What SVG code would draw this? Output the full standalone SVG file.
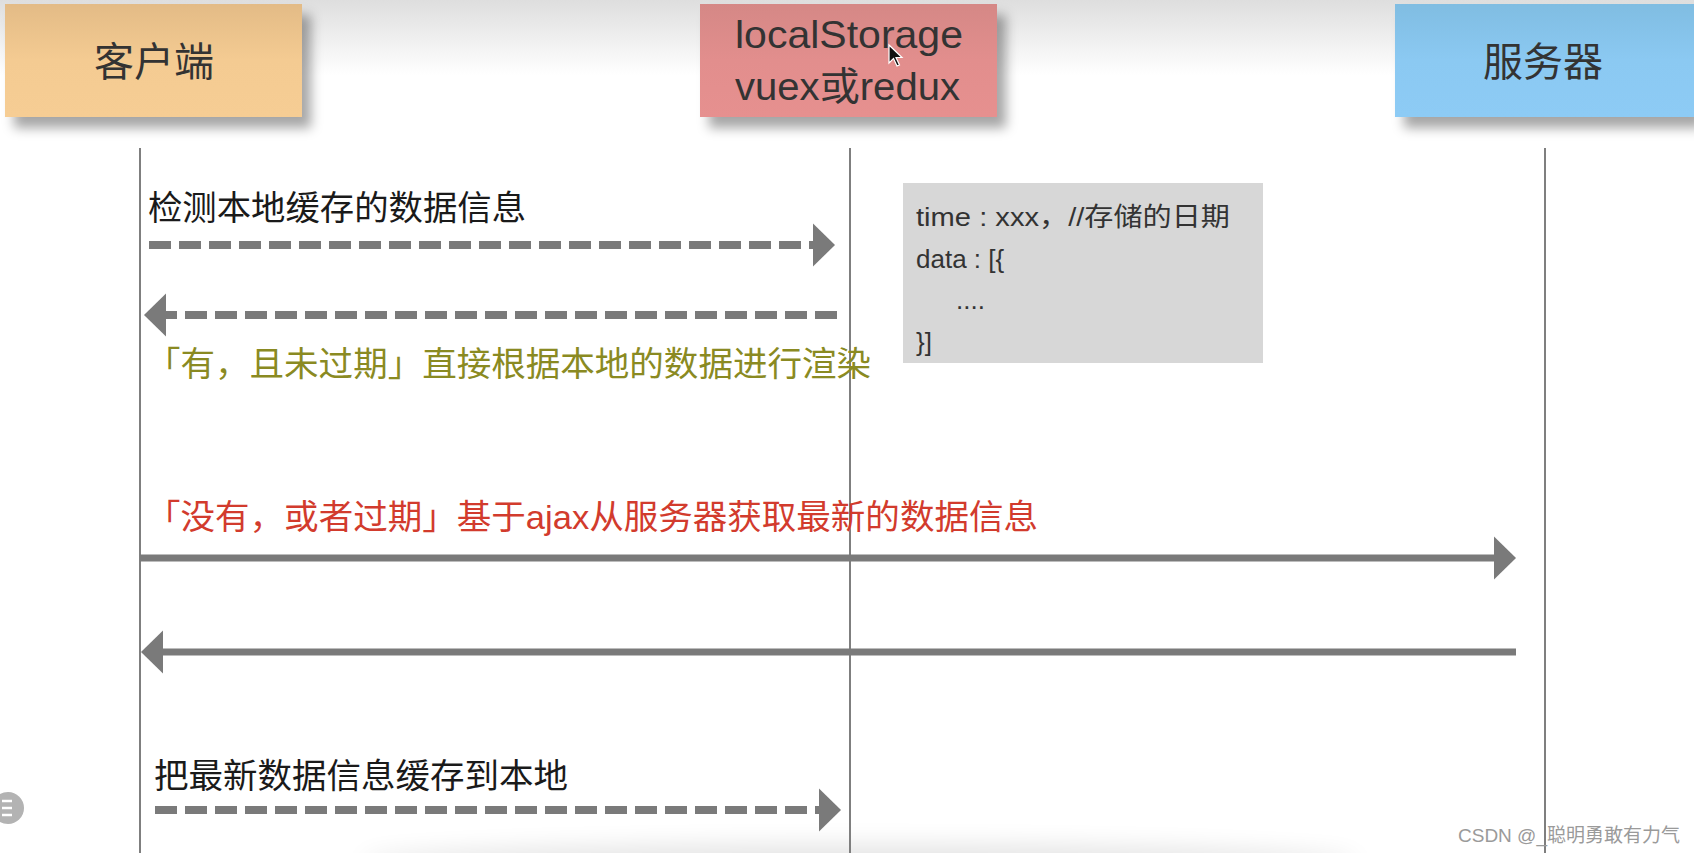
<svg xmlns="http://www.w3.org/2000/svg" width="1694" height="853" viewBox="0 0 1694 853">
  <defs>
    <linearGradient id="topbg" x1="0" y1="0" x2="0" y2="1">
      <stop offset="0" stop-color="#dedede"/>
      <stop offset="1" stop-color="#ffffff"/>
    </linearGradient>
    <linearGradient id="gClient" x1="0" y1="0" x2="0" y2="1">
      <stop offset="0" stop-color="#e3bb86"/>
      <stop offset="0.5" stop-color="#f4cb92"/>
      <stop offset="1" stop-color="#f6cd94"/>
    </linearGradient>
    <linearGradient id="gLocal" x1="0" y1="0" x2="0" y2="1">
      <stop offset="0" stop-color="#d58886"/>
      <stop offset="0.5" stop-color="#e28e8d"/>
      <stop offset="1" stop-color="#e6908f"/>
    </linearGradient>
    <linearGradient id="gServer" x1="0" y1="0" x2="0" y2="1">
      <stop offset="0" stop-color="#80bde2"/>
      <stop offset="0.5" stop-color="#8bc9f2"/>
      <stop offset="1" stop-color="#8dcbf5"/>
    </linearGradient>
    <filter id="shadow" x="-10%" y="-20%" width="130%" height="160%">
      <feDropShadow dx="9" dy="11" stdDeviation="6" flood-color="#000" flood-opacity="0.35"/>
    </filter>
    <filter id="blur" x="-20%" y="-100%" width="140%" height="300%">
      <feGaussianBlur stdDeviation="12"/>
    </filter>
    <marker id="headR" markerUnits="userSpaceOnUse" markerWidth="23" markerHeight="44" refX="0" refY="21.5" orient="auto" viewBox="0 0 23 44" overflow="visible">
      <path d="M0,0 L22,21.5 L0,43 Z" fill="#7a7a7a"/>
    </marker>
    <style>
      .box { stroke: none; filter: url(#shadow); }
      .hdr { font-family: "Liberation Sans", "Noto Sans CJK SC", sans-serif; font-size: 40px; fill: #333; }
      .hdr2 { font-family: "Liberation Sans", "Noto Sans CJK SC", sans-serif; font-size: 39px; fill: #333; }
      .life { stroke: #7f7f7f; stroke-width: 2; fill: none; }
      .dash { stroke: #7a7a7a; stroke-width: 8; stroke-dasharray: 22 8; fill: none; marker-end: url(#headR); }
      .solid { stroke: #7a7a7a; stroke-width: 7; fill: none; marker-end: url(#headR); }
      .lbl { font-family: "Liberation Sans", "Noto Sans CJK SC", sans-serif; font-size: 34px; }
      .note { font-family: "Liberation Sans", "Noto Sans CJK SC", sans-serif; font-size: 26px; fill: #333; }
    </style>
  </defs>

  <rect x="0" y="0" width="1694" height="853" fill="#ffffff"/>
  <rect x="0" y="0" width="1694" height="75" fill="url(#topbg)"/>
  <ellipse cx="860" cy="862" rx="500" ry="18" fill="#000" opacity="0.10" filter="url(#blur)"/>

  <g id="lifelines">
    <line class="life" x1="140" y1="148" x2="140" y2="853"/>
    <line class="life" x1="850" y1="148" x2="850" y2="853"/>
    <line class="life" x1="1545" y1="148" x2="1545" y2="853"/>
  </g>

  <g id="node-client">
    <rect class="box" x="5" y="4" width="297" height="113" fill="url(#gClient)"/>
    <text class="hdr" x="154" y="76" text-anchor="middle">客户端</text>
  </g>

  <g id="node-local">
    <rect class="box" x="700" y="4" width="297" height="113" fill="url(#gLocal)"/>
    <text class="hdr2" x="735" y="48" textLength="228" lengthAdjust="spacingAndGlyphs">localStorage</text>
    <text class="hdr2" x="735" y="100" textLength="225" lengthAdjust="spacingAndGlyphs">vuex或redux</text>
  </g>

  <g id="node-server">
    <rect class="box" x="1395" y="4" width="299" height="113" fill="url(#gServer)"/>
    <text class="hdr" x="1543" y="76" text-anchor="middle">服务器</text>
  </g>

  <g id="node-note">
    <rect x="903" y="183" width="360" height="180" fill="#d7d7d7"/>
    <text class="note" x="916" y="226" textLength="314" lengthAdjust="spacingAndGlyphs">time : xxx，//存储的日期</text>
    <text class="note" x="916" y="268">data : [{</text>
    <text class="note" x="956" y="309">....</text>
    <text class="note" x="916" y="351">}]</text>
  </g>

  <g id="connectors">
    <line class="dash" x1="149" y1="245" x2="813" y2="245"/>
    <line class="dash" x1="837" y1="315" x2="166" y2="315"/>
    <line class="solid" x1="140" y1="558" x2="1494" y2="558"/>
    <line class="solid" x1="1516" y1="652" x2="163" y2="652"/>
    <line class="dash" x1="155" y1="810" x2="819" y2="810"/>
  </g>

  <g id="labels">
    <text class="lbl" x="148" y="220" fill="#1a1a1a" textLength="378" lengthAdjust="spacingAndGlyphs">检测本地缓存的数据信息</text>
    <text class="lbl" x="146" y="376" fill="#8a8a22" textLength="725" lengthAdjust="spacingAndGlyphs">「有，且未过期」直接根据本地的数据进行渲染</text>
    <text class="lbl" x="146" y="529" fill="#d23b2d" textLength="892" lengthAdjust="spacingAndGlyphs">「没有，或者过期」基于ajax从服务器获取最新的数据信息</text>
    <text class="lbl" x="154" y="788" fill="#1a1a1a" textLength="414" lengthAdjust="spacingAndGlyphs">把最新数据信息缓存到本地</text>
  </g>

  <g id="menu-icon">
    <circle cx="8" cy="808" r="16" fill="#b3b3b3"/>
    <line x1="2" y1="801" x2="12" y2="801" stroke="#fff" stroke-width="2.5"/>
    <line x1="2" y1="808" x2="12" y2="808" stroke="#fff" stroke-width="2.5"/>
    <line x1="2" y1="815" x2="12" y2="815" stroke="#fff" stroke-width="2.5"/>
  </g>
  <g id="cursor" transform="translate(889,45)">
    <path d="M0,0 L0,18 L4.5,13.5 L8,21 L10.5,20 L7,12.5 L13,12.5 Z" fill="#111" stroke="#fff" stroke-width="1.2"/>
  </g>

  <text x="1458" y="842" font-family="Liberation Sans, Noto Sans CJK SC, sans-serif" font-size="19" fill="#9a9a9a">CSDN @_聪明勇敢有力气</text>
</svg>
